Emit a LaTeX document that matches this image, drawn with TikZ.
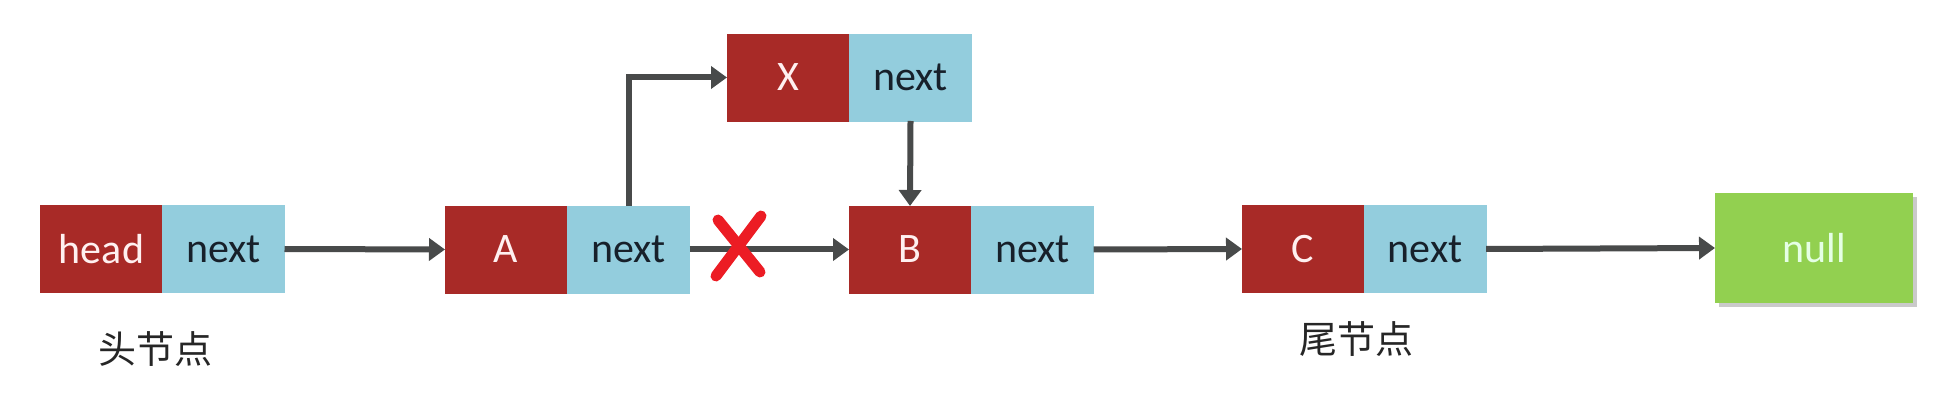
\documentclass[tikz,border=0pt]{standalone}
\usepackage{fontspec}
\setmainfont{Carlito}
\newfontfamily\cjk{Noto Sans CJK SC}
\usetikzlibrary{arrows.meta,shadows}
\definecolor{cellred}{HTML}{A82A27}
\definecolor{cellblue}{HTML}{93CDDD}
\definecolor{cellgreen}{HTML}{92D050}
\definecolor{arrowgray}{HTML}{484A4A}
\definecolor{crossred}{HTML}{EC1C24}
\definecolor{bluetext}{HTML}{17202A}
\begin{document}
\begin{tikzpicture}[x=1pt,y=-1pt,
  cell/.style={minimum width=122pt,minimum height=87pt,inner sep=0pt,outer sep=0pt,font=\fontsize{42}{42}\selectfont},
  redcell/.style={cell,fill=cellred,draw=cellred,line width=0.6pt,text=white!94!red},
  bluecell/.style={cell,fill=cellblue,draw=cellblue,line width=0.6pt,text=bluetext},
  nullcell/.style={minimum width=198pt,minimum height=110pt,inner sep=0pt,outer sep=0pt,fill=cellgreen,text=white!90!green,font=\fontsize{42}{42}\selectfont,
    drop shadow={shadow xshift=4pt,shadow yshift=-4pt,opacity=0.35,fill=black!60}},
  link/.style={draw=arrowgray,line width=6pt,-{Triangle[length=16pt,width=22pt]}},
  caption/.style={font=\cjk\fontsize{38}{38}\selectfont,text=black!85},
  crossmark/.style={draw=crossred,line width=11pt,line cap=round}]
\useasboundingbox (0,0) rectangle (1953,419);
% head
\node[redcell]  (h)  at (101.5,249) {head};
\node[bluecell] (hn) at (223.5,249) {next};
% A
\node[redcell]  (a)  at (506,249.5) {A};
\node[bluecell] (an) at (628.5,249.5) {next};
% X
\node[redcell]  (x)  at (788,77.5) {X};
\node[bluecell] (xn) at (910.5,77.5) {next};
% B
\node[redcell]  (b)  at (910,249.5) {B};
\node[bluecell] (bn) at (1032.5,249.5) {next};
% C
\node[redcell]  (c)  at (1303,249) {C};
\node[bluecell] (cn) at (1425,249) {next};
% null
\node[nullcell] (nl) at (1814,248) {null};
% captions
\node[caption] (lh) at (155,349) {头节点};
\node[caption] (lt) at (1356,339) {尾节点};
% links
\draw[link] (hn.east) -- (a.west);
\draw[link] (an.east) -- (b.west);
\draw[link] (bn.east) -- (c.west);
\draw[link] (cn.east) -- (nl.west);
\draw[link] (an.north -| 629,0) |- (x.west);
\draw[link] (xn.south) -- (b.north);
% cross
\coordinate (k) at (739,246);
\draw[crossmark] ([shift={(-21,-26)}]k) -- ([shift={(21,26)}]k);
\draw[crossmark] ([shift={(22,-30)}]k) -- ([shift={(-23,30)}]k);
\end{tikzpicture}
\end{document}
